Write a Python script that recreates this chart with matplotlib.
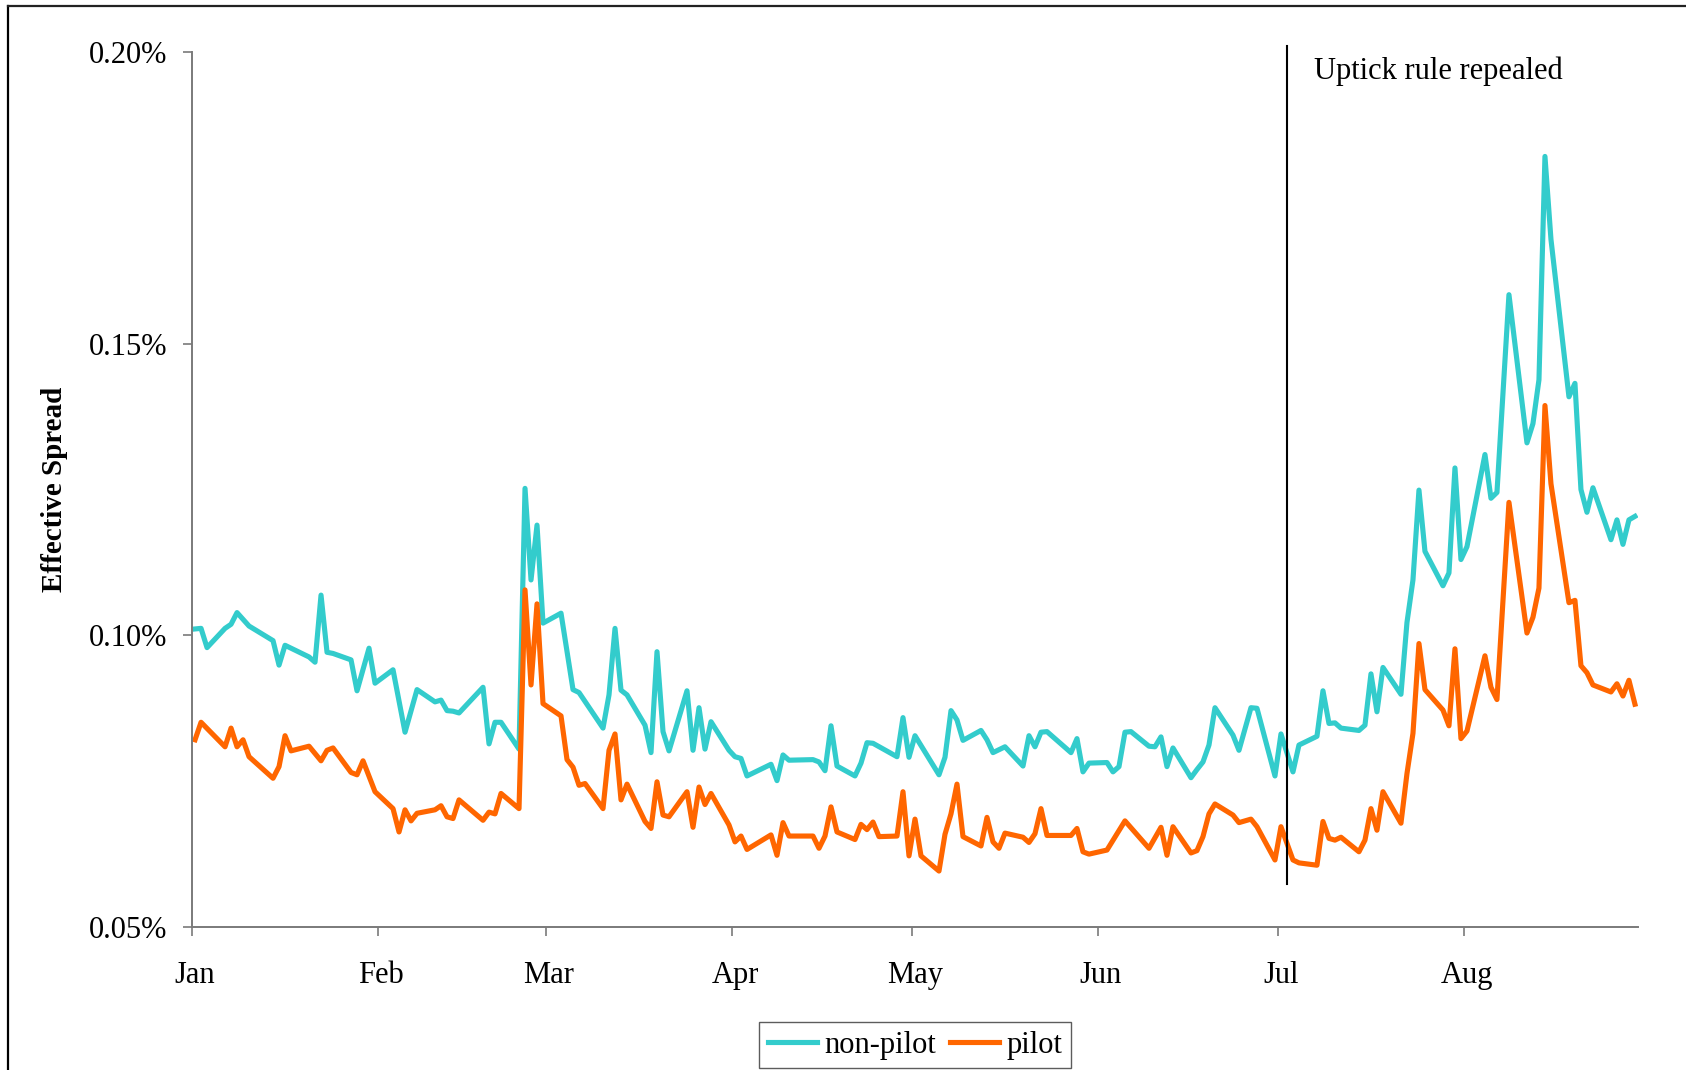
import numpy as np
import pandas as pd
import matplotlib.pyplot as plt
import matplotlib.dates as mdates
import matplotlib.transforms as mtransforms
from matplotlib.lines import Line2D
from matplotlib.ticker import FuncFormatter

plt.rcParams['font.family'] = ['Liberation Serif', 'DejaVu Serif']

# daily effective spread (%), 2007
nonpilot_days = [
    '01-03', '01-04', '01-05', '01-08', '01-09', '01-10', '01-12', '01-16', '01-17', '01-18',
    '01-22', '01-23', '01-24', '01-25', '01-26', '01-29', '01-30', '02-01', '02-02', '02-05',
    '02-07', '02-09', '02-12', '02-13', '02-14', '02-15', '02-16', '02-20', '02-21', '02-22',
    '02-23', '02-26', '02-27', '02-28', '03-01', '03-02', '03-05', '03-07', '03-08', '03-12',
    '03-13', '03-14', '03-15', '03-16', '03-19', '03-20', '03-21', '03-22', '03-23', '03-26',
    '03-27', '03-28', '03-29', '03-30', '04-02', '04-03', '04-04', '04-05', '04-09', '04-10',
    '04-11', '04-12', '04-16', '04-17', '04-18', '04-19', '04-20', '04-23', '04-24', '04-25',
    '04-26', '04-30', '05-01', '05-02', '05-03', '05-07', '05-08', '05-09', '05-10', '05-11',
    '05-14', '05-15', '05-16', '05-18', '05-21', '05-22', '05-23', '05-24', '05-25', '05-29',
    '05-30', '05-31', '06-01', '06-04', '06-05', '06-06', '06-07', '06-08', '06-11', '06-12',
    '06-13', '06-14', '06-15', '06-18', '06-19', '06-20', '06-21', '06-22', '06-25', '06-26',
    '06-28', '06-29', '07-02', '07-03', '07-05', '07-06', '07-09', '07-10', '07-11', '07-12',
    '07-13', '07-16', '07-17', '07-18', '07-19', '07-20', '07-23', '07-24', '07-25', '07-26',
    '07-27', '07-30', '07-31', '08-01', '08-02', '08-03', '08-06', '08-07', '08-08', '08-10',
    '08-13', '08-14', '08-15', '08-16', '08-17', '08-20', '08-21', '08-22', '08-23', '08-24',
    '08-27', '08-28', '08-29', '08-30', '08-31']
nonpilot = [
    0.1011, 0.1012, 0.0979, 0.1012, 0.1019, 0.1039, 0.1016, 0.0991, 0.0949, 0.0983,
    0.0963, 0.0954, 0.1069, 0.0971, 0.0969, 0.0958, 0.0905, 0.0978, 0.0918, 0.0941,
    0.0834, 0.0907, 0.0886, 0.0889, 0.0871, 0.0870, 0.0867, 0.0911, 0.0814, 0.0851,
    0.0851, 0.0805, 0.1252, 0.1095, 0.1189, 0.1021, 0.1038, 0.0907, 0.0902, 0.0841,
    0.0898, 0.1012, 0.0906, 0.0898, 0.0846, 0.0799, 0.0972, 0.0835, 0.0802, 0.0905,
    0.0803, 0.0876, 0.0805, 0.0852, 0.0803, 0.0792, 0.0789, 0.0759, 0.0779, 0.0751,
    0.0795, 0.0786, 0.0787, 0.0783, 0.0768, 0.0845, 0.0776, 0.0759, 0.0781, 0.0816,
    0.0815, 0.0792, 0.0859, 0.0791, 0.0828, 0.0761, 0.0791, 0.0871, 0.0855, 0.0820,
    0.0837, 0.0821, 0.0799, 0.0809, 0.0776, 0.0828, 0.0809, 0.0834, 0.0835, 0.0799,
    0.0823, 0.0766, 0.0781, 0.0782, 0.0766, 0.0775, 0.0834, 0.0835, 0.0810, 0.0809,
    0.0826, 0.0775, 0.0807, 0.0756, 0.0770, 0.0783, 0.0812, 0.0876, 0.0829, 0.0803,
    0.0876, 0.0875, 0.0759, 0.0831, 0.0766, 0.0812, 0.0827, 0.0905, 0.0849, 0.0850,
    0.0841, 0.0837, 0.0846, 0.0934, 0.0869, 0.0945, 0.0899, 0.1022, 0.1095, 0.1249,
    0.1144, 0.1085, 0.1107, 0.1287, 0.1130, 0.1152, 0.1310, 0.1235, 0.1245, 0.1584,
    0.1330, 0.1363, 0.1438, 0.1821, 0.1679, 0.1409, 0.1432, 0.1250, 0.1211, 0.1253,
    0.1164, 0.1198, 0.1156, 0.1198, 0.1204]

pilot_days = [
    '01-03', '01-04', '01-08', '01-09', '01-10', '01-11', '01-12', '01-16', '01-17', '01-18',
    '01-19', '01-22', '01-24', '01-25', '01-26', '01-29', '01-30', '01-31', '02-02', '02-05',
    '02-06', '02-07', '02-08', '02-09', '02-12', '02-13', '02-14', '02-15', '02-16', '02-20',
    '02-21', '02-22', '02-23', '02-26', '02-27', '02-28', '03-01', '03-02', '03-05', '03-06',
    '03-07', '03-08', '03-09', '03-12', '03-13', '03-14', '03-15', '03-16', '03-19', '03-20',
    '03-21', '03-22', '03-23', '03-26', '03-27', '03-28', '03-29', '03-30', '04-02', '04-03',
    '04-04', '04-05', '04-09', '04-10', '04-11', '04-12', '04-16', '04-17', '04-18', '04-19',
    '04-20', '04-23', '04-24', '04-25', '04-26', '04-27', '04-30', '05-01', '05-02', '05-03',
    '05-04', '05-07', '05-08', '05-09', '05-10', '05-11', '05-14', '05-15', '05-16', '05-17',
    '05-18', '05-21', '05-22', '05-23', '05-24', '05-25', '05-29', '05-30', '05-31', '06-01',
    '06-04', '06-07', '06-11', '06-13', '06-14', '06-15', '06-18', '06-19', '06-20', '06-21',
    '06-22', '06-25', '06-26', '06-28', '06-29', '07-02', '07-03', '07-05', '07-06', '07-09',
    '07-10', '07-11', '07-12', '07-13', '07-16', '07-17', '07-18', '07-19', '07-20', '07-23',
    '07-24', '07-25', '07-26', '07-27', '07-30', '07-31', '08-01', '08-02', '08-03', '08-06',
    '08-07', '08-08', '08-10', '08-13', '08-14', '08-15', '08-16', '08-17', '08-20', '08-21',
    '08-22', '08-23', '08-24', '08-27', '08-28', '08-29', '08-30', '08-31']
pilot = [
    0.0821, 0.0851, 0.0809, 0.0841, 0.0809, 0.0821, 0.0792, 0.0755, 0.0775, 0.0828,
    0.0802, 0.0810, 0.0785, 0.0803, 0.0807, 0.0765, 0.0761, 0.0785, 0.0732, 0.0703,
    0.0663, 0.0701, 0.0682, 0.0695, 0.0701, 0.0708, 0.0689, 0.0686, 0.0718, 0.0683,
    0.0697, 0.0694, 0.0729, 0.0703, 0.1078, 0.0915, 0.1054, 0.0883, 0.0862, 0.0787,
    0.0774, 0.0743, 0.0746, 0.0703, 0.0803, 0.0831, 0.0718, 0.0745, 0.0681, 0.0669,
    0.0749, 0.0692, 0.0689, 0.0732, 0.0671, 0.0740, 0.0710, 0.0729, 0.0675, 0.0646,
    0.0656, 0.0633, 0.0658, 0.0623, 0.0679, 0.0656, 0.0656, 0.0635, 0.0656, 0.0706,
    0.0663, 0.0650, 0.0676, 0.0667, 0.0680, 0.0655, 0.0656, 0.0732, 0.0622, 0.0685,
    0.0622, 0.0596, 0.0659, 0.0694, 0.0745, 0.0655, 0.0639, 0.0688, 0.0646, 0.0635,
    0.0661, 0.0654, 0.0645, 0.0660, 0.0703, 0.0657, 0.0657, 0.0669, 0.0629, 0.0625,
    0.0632, 0.0682, 0.0635, 0.0671, 0.0623, 0.0672, 0.0627, 0.0631, 0.0655, 0.0694,
    0.0711, 0.0692, 0.0679, 0.0685, 0.0672, 0.0615, 0.0672, 0.0615, 0.0610, 0.0606,
    0.0681, 0.0652, 0.0649, 0.0654, 0.0629, 0.0649, 0.0703, 0.0666, 0.0732, 0.0678,
    0.0763, 0.0832, 0.0986, 0.0907, 0.0872, 0.0845, 0.0977, 0.0823, 0.0836, 0.0965,
    0.0911, 0.0890, 0.1228, 0.1004, 0.1031, 0.1081, 0.1394, 0.1260, 0.1056, 0.1060,
    0.0948, 0.0936, 0.0915, 0.0903, 0.0917, 0.0896, 0.0923, 0.0882]

month_labels = ['Jan', 'Feb', 'Mar', 'Apr', 'May', 'Jun', 'Jul', 'Aug']
repeal_day = '2007-07-04'


def to_dates(days):
    # each day sits in the middle of its slot on the date axis
    return pd.to_datetime(['2007-' + d for d in days]) + pd.Timedelta(hours=12)


fig = plt.figure(figsize=(16.86, 10.7), dpi=100)
ax = fig.add_axes([0.1139, 0.1336, 0.8576, 0.8178])

ax.plot(to_dates(nonpilot_days), nonpilot, color='#33CCCC', lw=3.7, label='non-pilot',
        solid_joinstyle='round')
ax.plot(to_dates(pilot_days), pilot, color='#FF6600', lw=3.7, label='pilot',
        solid_joinstyle='round')

rep = pd.Timestamp(repeal_day) + pd.Timedelta(hours=12)
ax.plot([rep, rep], [0.0574, 0.2011], color='black', lw=1.5, clip_on=False)
fig.text(1314 / 1686, 1 - 71 / 1070, 'Uptick rule repealed', fontsize=22,
         ha='left', va='center')

# month ticks fall on the 3rd, in step with the first trading day
ticks = pd.date_range('2007-01-01', periods=8, freq='MS') + pd.Timedelta(days=2)
ax.set_xticks(ticks)
ax.set_xticklabels(month_labels)
ax.set_xlim(pd.Timestamp('2007-01-03'), pd.Timestamp('2007-09-01'))
ax.set_yticks([0.05, 0.10, 0.15, 0.20])
ax.set_ylim(0.05, 0.20)
ax.yaxis.set_major_formatter(FuncFormatter(lambda v, p: '%.2f%%' % v))

for s in ['top', 'right']:
    ax.spines[s].set_visible(False)
for s in ['left', 'bottom']:
    ax.spines[s].set_color('#7a7a7a')
    ax.spines[s].set_linewidth(1.4)
ax.tick_params(direction='out', length=6.5, width=1.2, color='#7a7a7a', labelsize=22)
ax.tick_params(axis='x', pad=18)
ax.tick_params(axis='y', pad=11)

# month names sit a touch right of their ticks
shift = mtransforms.ScaledTranslation(3 / 100, 0, fig.dpi_scale_trans)
for lab in ax.get_xticklabels():
    lab.set_transform(lab.get_transform() + shift)

fig.text(54 / 1686, 1 - 489 / 1070, 'Effective Spread', rotation=90, fontsize=21,
         fontweight='bold', ha='center', va='center')

leg = fig.legend(loc='center', bbox_to_anchor=(915 / 1686, 1 - 1045 / 1070), ncol=2,
                 fontsize=22, frameon=True, fancybox=False, handlelength=1.6,
                 handletextpad=0.25, columnspacing=0.45, borderpad=0.28,
                 borderaxespad=0)
leg.get_frame().set_edgecolor('#333333')
leg.get_frame().set_linewidth(1.0)

# chart border (left and top edges)
fig.add_artist(Line2D([8 / 1686, 8 / 1686], [0, 1 - 6 / 1070], color='black', lw=1.6))
fig.add_artist(Line2D([8 / 1686, 1], [1 - 6 / 1070, 1 - 6 / 1070], color='#222222', lw=1.6))

fig.savefig('out.png', dpi=100)
